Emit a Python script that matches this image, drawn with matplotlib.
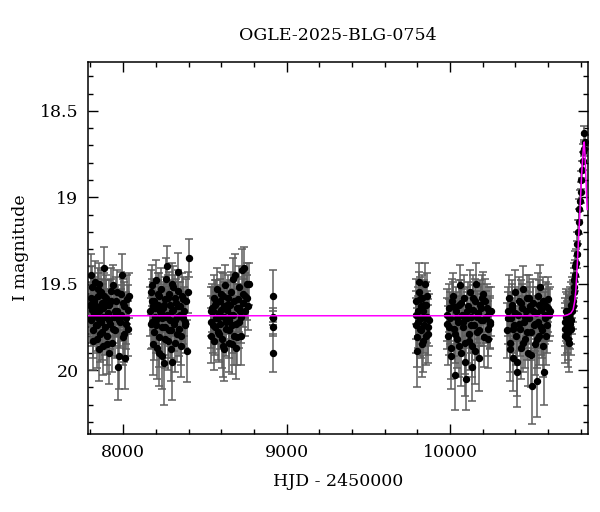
import numpy as np
import matplotlib
matplotlib.use("Agg")
import matplotlib.pyplot as plt
from matplotlib.ticker import MultipleLocator, FormatStrFormatter

plt.rcParams['font.family'] = ['DejaVu Serif']

# photometry (HJD - 2450000, I mag, error)
hjd = [
    # season 2017
    7797, 7801, 7804, 7808, 7811, 7815, 7819, 7823, 7827, 7831,
    7835, 7839, 7843, 7847, 7850, 7854, 7858, 7862, 7866, 7870,
    7874, 7878, 7882, 7886, 7890, 7895, 7900, 7905, 7911, 7916,
    7922, 7928, 7934, 7940, 7946, 7952, 7958, 7964, 7970, 7976,
    7982, 7988, 7993, 7998, 8004, 8009, 8015, 8021, 8027, 8034,
    7799, 7806, 7813, 7821, 7829, 7837, 7845, 7852, 7860, 7868,
    7876, 7884, 7892, 7902, 7913, 7925, 7937, 7949, 7961, 7973,
    7985, 7996, 8007, 8018, 8030,
    # season 2018
    8166, 8170, 8174, 8178, 8182, 8186, 8190, 8195, 8199, 8204,
    8209, 8213, 8218, 8222, 8227, 8231, 8236, 8240, 8245, 8249,
    8254, 8258, 8262, 8266, 8271, 8275, 8280, 8284, 8289, 8293,
    8297, 8301, 8306, 8310, 8315, 8320, 8324, 8329, 8333, 8338,
    8343, 8348, 8353, 8358, 8364, 8370, 8377, 8384, 8391, 8400,
    8168, 8176, 8184, 8193, 8202, 8211, 8220, 8229, 8238, 8247,
    8256, 8264, 8273, 8282, 8291, 8299, 8308, 8318, 8327, 8336,
    8346, 8356, 8367, 8381, 8395,
    # season 2019
    8535, 8540, 8545, 8550, 8555, 8560, 8565, 8570, 8575, 8580,
    8585, 8590, 8595, 8600, 8605, 8610, 8615, 8620, 8625, 8630,
    8635, 8640, 8645, 8650, 8655, 8660, 8665, 8670, 8675, 8680,
    8685, 8690, 8695, 8700, 8706, 8712, 8718, 8724, 8730, 8736,
    8742, 8748, 8755, 8762, 8768,
    8538, 8548, 8558, 8568, 8578, 8588, 8598, 8608, 8618, 8628,
    8638, 8648, 8658, 8668, 8678, 8688, 8698, 8709, 8721, 8733,
    8745, 8758,
    # 2020 (few points)
    8914, 8915, 8916, 8917, 8918,
    # season 2022
    9790, 9795, 9800, 9804, 9808, 9812, 9816, 9820, 9824, 9827,
    9831, 9835, 9839, 9843, 9847, 9852, 9857, 9862, 9867, 9872,
    9792, 9798, 9806, 9814, 9822, 9829, 9837, 9845, 9855, 9865,
    # season 2023
    9982, 9988, 9994, 10000, 10006, 10012, 10018, 10024, 10030, 10036,
    10042, 10048, 10054, 10060, 10066, 10072, 10078, 10084, 10090, 10096,
    10102, 10108, 10114, 10120, 10126, 10132, 10138, 10144, 10150, 10156,
    10162, 10168, 10174, 10180, 10186, 10192, 10198, 10204, 10210, 10218,
    10226, 10234, 10240, 10246, 10252,
    9985, 9997, 10009, 10021, 10033, 10045, 10057, 10069, 10081, 10093,
    10105, 10117, 10129, 10141, 10153, 10165, 10177, 10189, 10201, 10214,
    10230, 10244,
    # season 2024
    10350, 10356, 10362, 10368, 10374, 10380, 10386, 10392, 10398, 10404,
    10410, 10416, 10422, 10428, 10434, 10440, 10446, 10452, 10458, 10464,
    10470, 10476, 10482, 10488, 10494, 10500, 10506, 10512, 10518, 10524,
    10530, 10536, 10542, 10548, 10552, 10558, 10564, 10570, 10576, 10582,
    10588, 10594, 10600, 10606, 10612,
    10353, 10365, 10377, 10389, 10401, 10413, 10425, 10437, 10449, 10461,
    10473, 10485, 10497, 10509, 10521, 10533, 10545, 10555, 10567, 10579,
    10591, 10603,
    # season 2025 (event)
    10702, 10706, 10710, 10714, 10718, 10722, 10726, 10730, 10734, 10738,
    10742, 10746, 10750, 10754, 10758, 10762, 10766, 10768, 10772, 10776,
    10780, 10784, 10788, 10792, 10796, 10800, 10804, 10808, 10812, 10816,
    10818, 10822, 10824,
    10704, 10712, 10720, 10728, 10736, 10744, 10752, 10760,
]
mag = [
    19.62, 19.58, 19.71, 19.65, 19.52, 19.77, 19.60, 19.68, 19.49, 19.74,
    19.63, 19.82, 19.57, 19.70, 19.50, 19.66, 19.79, 19.55, 19.72, 19.61,
    19.86, 19.64, 19.41, 19.69, 19.75, 19.58, 19.80, 19.67, 19.90, 19.62,
    19.73, 19.54, 19.84, 19.51, 19.69, 19.77, 19.60, 19.66, 19.98, 19.71,
    19.72, 19.56, 19.45, 19.81, 19.63, 19.93, 19.70, 19.59, 19.76, 19.57,
    19.70, 19.45, 19.83, 19.59, 19.67, 19.74, 19.53, 19.88, 19.64, 19.78,
    19.69, 19.57, 19.62, 19.85, 19.71, 19.60, 19.76, 19.66, 19.55, 19.92,
    19.68, 19.61, 19.79, 19.73, 19.65,

    19.66, 19.55, 19.72, 19.51, 19.63, 19.78, 19.60, 19.69, 19.48, 19.74,
    19.87, 19.62, 19.57, 19.81, 19.66, 19.53, 19.70, 19.92, 19.64, 19.96,
    19.59, 19.75, 19.47, 19.40, 19.68, 19.83, 19.56, 19.71, 19.62, 19.77,
    19.50, 19.95, 19.65, 19.73, 19.58, 19.84, 19.61, 19.69, 19.54, 19.43,
    19.76, 19.63, 19.80, 19.57, 19.70, 19.66, 19.74, 19.60, 19.89, 19.35,
    19.73, 19.60, 19.85, 19.64, 19.71, 19.56, 19.90, 19.67, 19.75, 19.62,
    19.82, 19.69, 19.58, 19.77, 19.88, 19.66, 19.52, 19.71, 19.79, 19.63,
    19.68, 19.86, 19.59, 19.72, 19.55,

    19.72, 19.80, 19.64, 19.66, 19.58, 19.75, 19.62, 19.70, 19.53, 19.78,
    19.67, 19.60, 19.73, 19.56, 19.82, 19.86, 19.63, 19.69, 19.51, 19.76,
    19.65, 19.58, 19.71, 19.84, 19.62, 19.55, 19.74, 19.68, 19.47, 19.80,
    19.45, 19.87, 19.64, 19.59, 19.72, 19.52, 19.66, 19.80, 19.42, 19.61,
    19.41, 19.57, 19.50, 19.63, 19.50,
    19.66, 19.74, 19.83, 19.61, 19.70, 19.79, 19.65, 19.57, 19.88, 19.72,
    19.62, 19.77, 19.68, 19.85, 19.60, 19.73, 19.81, 19.64, 19.69, 19.56,
    19.66, 19.58,

    19.57, 19.69, 19.70, 19.75, 19.90,

    19.68, 19.60, 19.89, 19.72, 19.55, 19.49, 19.76, 19.63, 19.70, 19.85,
    19.58, 19.66, 19.74, 19.62, 19.50, 19.80, 19.69, 19.57, 19.79, 19.71,
    19.74, 19.81, 19.66, 19.59, 19.77, 19.64, 19.83, 19.70, 19.62, 19.75,

    19.73, 19.80, 19.64, 19.70, 19.87, 19.60, 19.57, 19.76, 20.03, 19.66,
    19.82, 19.72, 19.62, 19.51, 19.90, 19.68, 19.75, 19.58, 19.84, 20.05,
    19.70, 19.63, 19.79, 19.55, 19.69, 19.86, 19.98, 19.65, 19.74, 19.60,
    19.50, 19.78, 19.67, 19.93, 19.62, 19.71, 19.58, 19.56, 19.81, 19.69,
    19.64, 19.76, 19.67, 19.72, 19.66,
    19.68, 19.75, 19.92, 19.63, 19.79, 19.70, 19.86, 19.61, 19.72, 19.95,
    19.66, 19.83, 19.74, 19.58, 19.89, 19.69, 19.77, 19.64, 19.71, 19.60,
    19.82, 19.73,

    19.77, 19.66, 19.58, 19.84, 19.70, 19.62, 19.93, 19.74, 19.55, 19.80,
    20.01, 19.68, 19.60, 19.76, 19.87, 19.64, 19.53, 19.72, 19.82, 19.66,
    19.58, 19.90, 19.70, 19.63, 19.78, 20.09, 19.61, 19.74, 19.85, 19.67,
    20.06, 19.57, 19.72, 19.80, 19.52, 19.65, 19.77, 19.60, 20.01, 19.70,
    19.63, 19.74, 19.59, 19.68, 19.66,
    19.70, 19.88, 19.64, 19.76, 19.67, 19.95, 19.73, 19.61, 19.84, 19.69,
    19.78, 19.58, 19.91, 19.66, 19.73, 19.82, 19.62, 19.75, 19.86, 19.68,
    19.80, 19.64,

    19.72, 19.80, 19.66, 19.75, 19.70, 19.78, 19.84, 19.68, 19.73, 19.62,
    19.76, 19.58, 19.66, 19.60, 19.55, 19.48, 19.40, 19.45, 19.38, 19.33,
    19.27, 19.20, 19.14, 19.07, 19.02, 18.97, 18.90, 18.84, 18.79, 18.74,
    18.72, 18.63, 18.68,
    19.76, 19.69, 19.82, 19.72, 19.65, 19.71, 19.63, 19.52,
]
err = [
    0.13, 0.12, 0.15, 0.14, 0.12, 0.16, 0.13, 0.14, 0.12, 0.15,
    0.14, 0.17, 0.13, 0.15, 0.12, 0.14, 0.16, 0.13, 0.15, 0.14,
    0.17, 0.14, 0.12, 0.15, 0.16, 0.13, 0.17, 0.14, 0.18, 0.14,
    0.15, 0.13, 0.17, 0.12, 0.15, 0.16, 0.14, 0.15, 0.19, 0.15,
    0.15, 0.13, 0.12, 0.16, 0.14, 0.18, 0.15, 0.14, 0.16, 0.13,
    0.14, 0.12, 0.17, 0.13, 0.14, 0.16, 0.12, 0.18, 0.14, 0.16,
    0.15, 0.13, 0.14, 0.17, 0.15, 0.13, 0.16, 0.14, 0.13, 0.19,
    0.15, 0.14, 0.16, 0.15, 0.14,

    0.14, 0.13, 0.15, 0.12, 0.14, 0.16, 0.13, 0.15, 0.12, 0.16,
    0.18, 0.14, 0.13, 0.17, 0.14, 0.12, 0.15, 0.19, 0.14, 0.24,
    0.13, 0.16, 0.12, 0.12, 0.15, 0.17, 0.13, 0.15, 0.14, 0.16,
    0.12, 0.22, 0.14, 0.16, 0.13, 0.17, 0.14, 0.15, 0.12, 0.11,
    0.16, 0.14, 0.17, 0.13, 0.15, 0.14, 0.16, 0.13, 0.18, 0.11,
    0.15, 0.13, 0.18, 0.14, 0.15, 0.12, 0.19, 0.14, 0.16, 0.13,
    0.17, 0.15, 0.13, 0.16, 0.18, 0.14, 0.12, 0.15, 0.16, 0.14,
    0.15, 0.18, 0.13, 0.15, 0.12,

    0.15, 0.16, 0.14, 0.14, 0.13, 0.16, 0.14, 0.15, 0.12, 0.16,
    0.14, 0.13, 0.15, 0.13, 0.17, 0.18, 0.14, 0.15, 0.12, 0.16,
    0.14, 0.13, 0.15, 0.17, 0.14, 0.12, 0.16, 0.15, 0.12, 0.17,
    0.12, 0.18, 0.14, 0.13, 0.15, 0.12, 0.14, 0.17, 0.12, 0.14,
    0.12, 0.13, 0.12, 0.14, 0.12,
    0.14, 0.16, 0.17, 0.13, 0.15, 0.16, 0.14, 0.13, 0.18, 0.15,
    0.13, 0.16, 0.14, 0.17, 0.13, 0.15, 0.16, 0.14, 0.15, 0.13,
    0.14, 0.13,

    0.15, 0.05, 0.04, 0.05, 0.11,

    0.14, 0.13, 0.21, 0.15, 0.12, 0.11, 0.16, 0.14, 0.15, 0.19,
    0.13, 0.14, 0.16, 0.14, 0.12, 0.17, 0.15, 0.13, 0.17, 0.15,
    0.16, 0.17, 0.14, 0.13, 0.16, 0.14, 0.18, 0.15, 0.13, 0.16,

    0.15, 0.17, 0.14, 0.15, 0.18, 0.13, 0.13, 0.16, 0.20, 0.14,
    0.17, 0.15, 0.14, 0.12, 0.19, 0.15, 0.16, 0.13, 0.18, 0.18,
    0.15, 0.14, 0.17, 0.13, 0.15, 0.18, 0.20, 0.14, 0.16, 0.13,
    0.12, 0.16, 0.15, 0.19, 0.14, 0.15, 0.13, 0.13, 0.17, 0.15,
    0.14, 0.16, 0.15, 0.15, 0.14,
    0.15, 0.16, 0.19, 0.14, 0.17, 0.15, 0.18, 0.13, 0.15, 0.20,
    0.14, 0.17, 0.16, 0.13, 0.19, 0.15, 0.16, 0.14, 0.15, 0.13,
    0.17, 0.15,

    0.16, 0.14, 0.13, 0.17, 0.15, 0.14, 0.19, 0.16, 0.13, 0.17,
    0.20, 0.15, 0.14, 0.16, 0.18, 0.14, 0.13, 0.15, 0.17, 0.14,
    0.13, 0.19, 0.15, 0.14, 0.16, 0.22, 0.14, 0.16, 0.18, 0.15,
    0.21, 0.13, 0.15, 0.17, 0.13, 0.14, 0.16, 0.14, 0.19, 0.15,
    0.14, 0.16, 0.13, 0.15, 0.14,
    0.15, 0.18, 0.14, 0.16, 0.15, 0.20, 0.16, 0.13, 0.17, 0.15,
    0.16, 0.13, 0.19, 0.14, 0.16, 0.17, 0.14, 0.16, 0.18, 0.15,
    0.17, 0.14,

    0.14, 0.16, 0.13, 0.15, 0.14, 0.16, 0.17, 0.14, 0.15, 0.13,
    0.15, 0.12, 0.13, 0.12, 0.11, 0.10, 0.09, 0.09, 0.08, 0.08,
    0.07, 0.07, 0.07, 0.06, 0.06, 0.06, 0.05, 0.05, 0.05, 0.05,
    0.04, 0.04, 0.04,
    0.15, 0.14, 0.16, 0.15, 0.13, 0.14, 0.13, 0.11,
]
assert len(hjd) == len(mag) == len(err)

# microlensing model curve
model_t = [7786, 10700, 10720, 10740, 10754, 10764, 10771, 10776, 10781, 10786,
           10791, 10796, 10801, 10806, 10812, 10817, 10822, 10827, 10832, 10840]
model_m = [19.685, 19.685, 19.68, 19.67, 19.65, 19.60, 19.535, 19.45, 19.36, 19.26,
           19.17, 19.07, 18.97, 18.87, 18.78, 18.71, 18.68, 18.76, 18.88, 19.07]

fig = plt.figure(figsize=(6.0, 5.12), dpi=100)
ax = fig.add_axes([0.147, 0.152, 0.833, 0.727])

ax.errorbar(hjd, mag, yerr=err, fmt='o', ms=4.3, mfc='black', mec='black',
            ecolor='#5e5e5e', elinewidth=1.1, capsize=3.0, capthick=1.1, zorder=2)
ax.plot(model_t, model_m, color='magenta', lw=1.1, zorder=3)

ax.set_xlim(7786, 10845)
ax.set_ylim(20.37, 18.217)

ax.xaxis.set_major_locator(MultipleLocator(1000))
ax.xaxis.set_minor_locator(MultipleLocator(200))
ax.yaxis.set_major_locator(MultipleLocator(0.5))
ax.yaxis.set_minor_locator(MultipleLocator(0.1))
ax.yaxis.set_major_formatter(FormatStrFormatter('%g'))

ax.tick_params(which='both', direction='in', top=True, right=True, width=1.0)
ax.tick_params(which='major', length=7, labelsize=12.5, pad=7)
ax.tick_params(which='minor', length=3.5)
for s in ax.spines.values():
    s.set_linewidth(1.1)

ax.set_xlabel('HJD - 2450000', fontsize=12.5, labelpad=9)
ax.set_ylabel('I magnitude', fontsize=12.5, labelpad=8)
ax.set_title('OGLE-2025-BLG-0754', fontsize=12.5, pad=16)

fig.savefig('out.png', dpi=100)
